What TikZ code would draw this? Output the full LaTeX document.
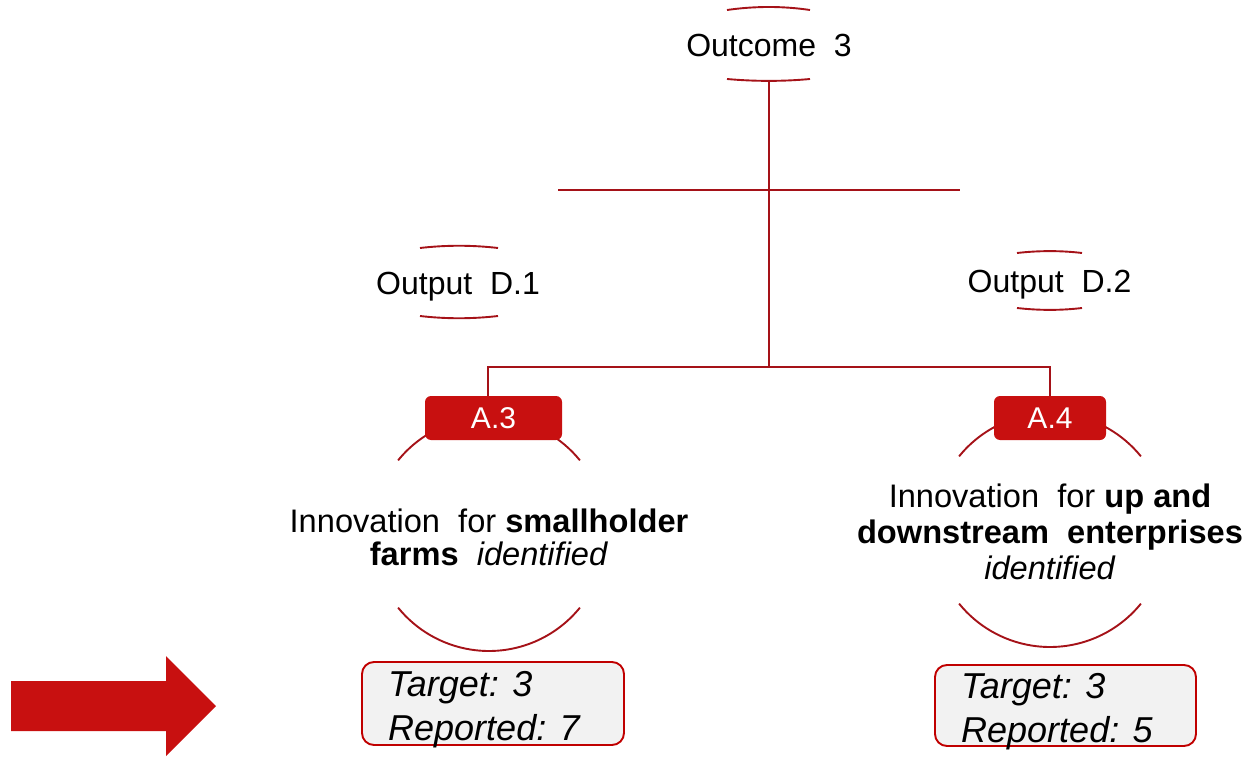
\documentclass[tikz,border=0pt]{standalone}
\usepackage{fontspec}
\setmainfont{Liberation Sans}
\definecolor{linered}{RGB}{165,18,24}
\definecolor{boxred}{RGB}{200,16,16}
\definecolor{boxgray}{RGB}{242,242,242}
\definecolor{borderred}{RGB}{192,0,0}
\begin{document}
\begin{tikzpicture}[x=1pt,y=-1pt,
  lbl/.style={inner sep=0pt, align=center, font=\fontsize{32}{34}\selectfont},
  tag/.style={fill=boxred, rounded corners=6pt, text=white, inner sep=0pt,
    minimum height=44pt, font=\fontsize{30}{30}\selectfont},
  conn/.style={draw=linered, line width=1.9pt},
  brk/.style={draw=linered, line width=1.9pt},
  result/.style={draw=borderred, fill=boxgray, line width=1.9pt, rounded corners=12pt},
  restext/.style={inner sep=0pt, anchor=west, align=left, font=\fontsize{36}{44}\selectfont\itshape}]
\useasboundingbox (0,0) rectangle (1251,757);

% outcome
\node[lbl, minimum width=83pt, minimum height=70pt] (outcome) at (769,45) {Outcome\ \ 3};
\draw[brk] (727,10) .. controls (755,6) and (783,6) .. (810,10);
\draw[brk] (727,79) .. controls (755,81.5) and (783,81.5) .. (810,79);

% outputs
\node[lbl, minimum width=78pt, minimum height=70pt] (outD1) at (458,286.5) {Output\ \ D.1};
\draw[brk] (420,248) .. controls (446,245) and (472,245) .. (498,248);
\draw[brk] (420,316) .. controls (446,319) and (472,319) .. (498,316);
\node[lbl, minimum width=65pt, minimum height=57pt] (outD2) at (1049.5,284.5) {Output\ \ D.2};
\draw[brk] (1017,253) .. controls (1039,250.5) and (1061,250.5) .. (1082,253);
\draw[brk] (1017,308) .. controls (1039,310.5) and (1061,310.5) .. (1082,308);

% circles around activities
\draw[brk] (489,534) ++(219:117) arc[start angle=219, end angle=321, radius=117];
\draw[brk] (489,534) ++(39:117) arc[start angle=39, end angle=141, radius=117];
\draw[brk] (1050,530) ++(219:117) arc[start angle=219, end angle=321, radius=117];
\draw[brk] (1050,530) ++(39:117) arc[start angle=39, end angle=141, radius=117];

% tags
\node[tag, minimum width=137pt] (a3) at (493.5,418) {A.3};
\node[tag, minimum width=112pt] (a4) at (1050,418) {A.4};

% connectors
\coordinate (bus) at (769,367);
\coordinate (hl) at (558,190);
\coordinate (hr) at (960,190);
\draw[conn] (outcome.south) -- (bus);
\draw[conn] (hl) -- (hr);
\draw[conn] ([xshift=-5.5pt]a3.north) |- (bus) -| (a4.north);

% activity texts
\node[lbl, font=\fontsize{32.6}{33}\selectfont] (txt3) at (489,537)
  {Innovation\ \ for \textbf{smallholder}\\\textbf{farms}\ \ \textit{identified}};
\node[lbl, font=\fontsize{32.6}{36}\selectfont] (txt4) at (1050,532)
  {Innovation\ \ for \textbf{up and}\\\textbf{downstream\ \ enterprises}\\\textit{identified}};

% result boxes
\node[result, minimum width=262pt, minimum height=83pt] (res3) at (493,703.5) {};
\node[restext] (res3t) at (388,710) {Target: 3\\Reported: 7};
\node[result, minimum width=261pt, minimum height=81pt] (res4) at (1065.5,705.5) {};
\node[restext] (res4t) at (961,712) {Target: 3\\Reported: 5};

% arrow
\fill[boxred] (11,681) -- (166,681) -- (166,656) -- (216,706) -- (166,756) -- (166,731) -- (11,731) -- cycle;
\end{tikzpicture}
\end{document}
